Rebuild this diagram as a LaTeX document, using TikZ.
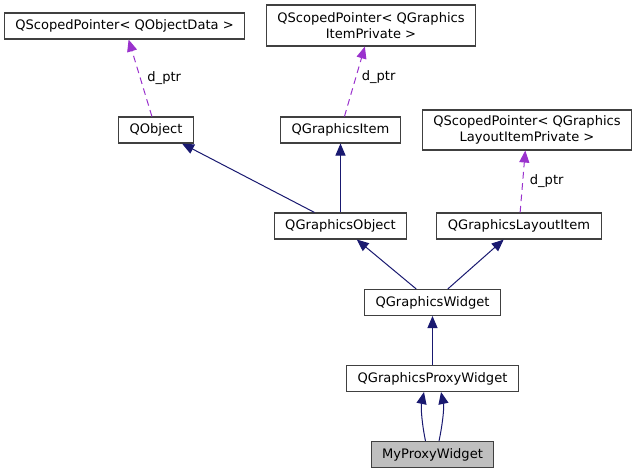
\documentclass[tikz,border=0pt]{standalone}
\usepackage{fontspec}
\setmainfont{DejaVu Sans}
\usepackage{xcolor}
\usetikzlibrary{arrows.meta}
\definecolor{edgeblue}{HTML}{191970}
\definecolor{ptrpurple}{HTML}{9A32CD}
\definecolor{boxgray}{HTML}{404040}
\def\classfont{\fontsize{9.8pt}{11.8pt}\selectfont}

\tikzset{
  cls/.style={draw=boxgray, fill=white, line width=0.8pt, inner xsep=8.25pt, inner ysep=2pt,
    minimum height=19.5pt, font=\classfont, align=center},
  inh/.style={draw=edgeblue, line width=0.75pt, -{Triangle[length=9pt,width=7.5pt]}},
  uses/.style={draw=ptrpurple, line width=0.75pt, dash pattern=on 5pt off 3.5pt,
    -{Triangle[length=9pt,width=7.5pt]}},
  lbl/.style={font=\classfont, inner sep=0pt}
}

\begin{document}
\begin{tikzpicture}[x=0.75pt, y=-0.75pt]
      \useasboundingbox (0,0) rectangle (636,473);

      \node[cls] (spdata) at (124.5,26) {QScopedPointer< QObjectData >};
      \node[cls, minimum height=30.75pt] (spitem) at (371,25.5) {QScopedPointer< QGraphics\\ItemPrivate >};
      \node[cls] (qobject) at (156,130) {QObject};
      \node[cls] (gitem) at (340.5,130) {QGraphicsItem};
      \node[cls, minimum height=30pt] (splayout) at (527,130) {QScopedPointer< QGraphics\\LayoutItemPrivate >};
      \node[cls] (gobject) at (340.5,226) {QGraphicsObject};
      \node[cls] (glayout) at (519,226) {QGraphicsLayoutItem};
      \node[cls] (gwidget) at (432.5,302.5) {QGraphicsWidget};
      \node[cls] (gproxy) at (432.5,378.5) {QGraphicsProxyWidget};
      \node[cls, fill=gray!50] (myproxy) at (432.5,454.5) {MyProxyWidget};

      \draw[uses] (qobject) -- node[lbl, right=5pt] {d\_ptr} (spdata);
      \draw[uses] (gitem) -- node[lbl, right=5pt, yshift=3pt] {d\_ptr} (spitem);
      \draw[uses] (glayout) -- node[lbl, right=5pt] {d\_ptr} (splayout);

      \draw[inh] (gobject) -- (qobject);
      \draw[inh] (gobject) -- (gitem);
      \draw[inh] (gwidget) -- (gobject);
      \draw[inh] (gwidget) -- (glayout);
      \draw[inh] (gproxy) -- (gwidget);

      \draw[inh] ([xshift=-5.25pt]myproxy.north) .. controls +(-2.5pt,12pt) and +(-2.5pt,-12pt) .. ([xshift=-6.4pt]gproxy.south);
      \draw[inh] ([xshift=4.9pt]myproxy.north) .. controls +(2.5pt,12pt) and +(2.5pt,-12pt) .. ([xshift=6.4pt]gproxy.south);
    \end{tikzpicture}
\end{document}
